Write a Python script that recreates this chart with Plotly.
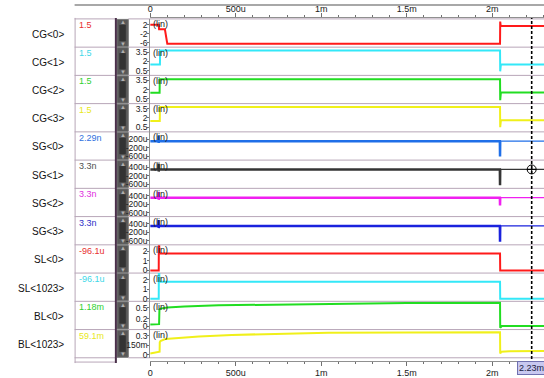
import plotly.graph_objects as go

W, H = 544, 378


def PX(x):
    return x / W


def PY(y):
    return 1 - y / H


# ---------------- data (time in microseconds) ----------------
names = ["CG<0>", "CG<1>", "CG<2>", "CG<3>", "SG<0>", "SG<1>", "SG<2>", "SG<3>",
         "SL<0>", "SL<1023>", "BL<0>", "BL<1023>"]
cursor_values = ["1.5", "1.5", "1.5", "1.5", "2.29n", "3.3n", "3.3n", "3.3n",
                 "-96.1u", "-96.1u", "1.18m", "59.1m"]

x_tick_vals = [0, 500, 1000, 1500, 2000]
x_tick_text = ["0", "500u", "1m", "1.5m", "2m"]
cursor_time = 2230
cursor_label = "2.23m"

ytick_vals = [[2, -2, -6], [3.5, 2, 0.5], [3.5, 2, 0.5], [3.5, 2, 0.5],
              [200, -200, -600], [200, -200, -600], [200, -200, -600], [200, -200, -600],
              [2, 1, 0], [2, 1, 0], [0.5, 0.2, 0], [0.3, 0.15, 0]]
ytick_text = [["2", "-2", "-6"], ["3.5", "2", "0.5"], ["3.5", "2", "0.5"], ["3.5", "2", "0.5"],
              ["200u", "-200u", "-600u"], ["400u", "-200u", "-600u"],
              ["400u", "-200u", "-600u"], ["400u", "-200u", "-600u"],
              ["2", "1", "0"], ["2", "1", "0"], ["0.5", "0.2", "0"], ["0.3", "150m", "0"]]

# CG signals
t_cg0 = [0, 50, 52, 86, 100, 2045, 2046, 2049, 2302]
v_cg0 = [2.0, 2.0, 0.0, 0.0, -6.4, -6.4, 3.5, 1.5, 1.5]
t_cg1 = [0, 57, 58, 2045, 2046, 2050, 2302]
v_cg1 = [1.5, 1.5, 3.77, 3.77, 0.4, 1.5, 1.5]
t_cg2 = [0, 55, 56, 2045, 2046, 2050, 2302]
v_cg2 = [1.5, 1.5, 3.68, 3.68, 0.3, 1.55, 1.55]
t_cg3 = [0, 56, 57, 2045, 2046, 2050, 2302]
v_cg3 = [1.5, 1.5, 3.74, 3.74, 0.5, 1.6, 1.6]

# SG signals (values in micro-units); before and after the 2.045m event
t_sg_before = [0, 48, 49, 50, 51, 2044, 2045, 2046]
v_sg0_before = [100, 100, 360, 20, 100, 100, -620, 100]
v_sg1_before = [100, 100, 380, 0, 100, 100, -640, 100]
v_sg2_before = [100, 100, 380, 0, 100, 100, -260, 100]
v_sg3_before = [100, 100, 380, 0, 100, 100, -640, 100]
t_sg_after = [2046, 2302]
v_sg0_after = [100, 100]
v_sg1_after = [100, 100]
v_sg2_after = [100, 100]
v_sg3_after = [100, 100]

# SL signals
t_sl0 = [0, 50, 50.5, 53, 55, 2045, 2046, 2302]
v_sl0 = [0.0, 0.0, 2.55, 2.55, 1.77, 1.77, 0.0, 0.0]
t_sl1023 = [0, 50, 50.5, 53, 55, 2045, 2046, 2302]
v_sl1023 = [0.0, 0.0, 2.65, 2.65, 1.78, 1.78, 0.0, 0.0]

# BL signals
t_bl0 = [0, 52, 54, 60, 100, 200, 400, 700, 1000, 1500, 2045, 2046, 2055, 2302]
v_bl0 = [0.04, 0.05, 0.44, 0.47, 0.5, 0.53, 0.56, 0.58, 0.6, 0.62, 0.63, -0.05, 0.0, 0.0]
t_bl1023 = [0, 50, 55, 56, 60, 88, 285, 477, 1040, 1500, 2045, 2046, 2052, 2100, 2302]
v_bl1023 = [0.02, 0.045, 0.05, 0.2, 0.22, 0.25, 0.29, 0.316, 0.35, 0.356, 0.36, 0.02, 0.05, 0.055, 0.062]

sg_marker_value = 100  # SG<1> value at the cursor crosshair

# ---------------- styles ----------------
line_colors = ["#ff1a1a", "#33e8f8", "#22dd22", "#f0f01a", "#1f6fe8", "#353535",
               "#f020f0", "#1a22dd", "#ff1a1a", "#33e8f8", "#22dd22", "#f0f01a"]
text_colors = ["#e83030", "#40d8e8", "#30d030", "#e8e820", "#3070e0", "#505050",
               "#e030e0", "#3030c8", "#e83030", "#40d8e8", "#30d030", "#e8e820"]
yranges = [[-7.96, 4.67], [-0.26, 4.3], [-0.26, 4.3], [-0.26, 4.3],
           [-784, 536], [-784, 536], [-784, 536], [-784, 536],
           [-0.28, 2.69], [-0.28, 2.69], [-0.096, 0.668], [-0.047, 0.401]]

FONT = "Liberation Sans, Arial, sans-serif"
ROW_TOP, ROW_BOT = 19.0, 359.7
NROW = 12
RH = (ROW_BOT - ROW_TOP) / NROW
X0, XEND = 0, 2302
PLOT_L = 148

series = [
    [(t_cg0, v_cg0, 2)], [(t_cg1, v_cg1, 2)], [(t_cg2, v_cg2, 2)], [(t_cg3, v_cg3, 2)],
    [(t_sg_before, v_sg0_before, 2.5), (t_sg_after, v_sg0_after, 1.3)],
    [(t_sg_before, v_sg1_before, 2.5), (t_sg_after, v_sg1_after, 1.3)],
    [(t_sg_before, v_sg2_before, 2.5), (t_sg_after, v_sg2_after, 1.3)],
    [(t_sg_before, v_sg3_before, 2.5), (t_sg_after, v_sg3_after, 1.3)],
    [(t_sl0, v_sl0, 2)], [(t_sl1023, v_sl1023, 2)],
    [(t_bl0, v_bl0, 2)], [(t_bl1023, v_bl1023, 2)],
]

fig = go.Figure()
layout = dict(
    width=W, height=H, margin=dict(l=0, r=0, t=0, b=0),
    paper_bgcolor="white", plot_bgcolor="white", showlegend=False,
    font=dict(family=FONT, size=9, color="#202020"),
)

sep_color = "#b8a6b8"
shapes = []
annotations = []

for i in range(NROW):
    top = ROW_TOP + i * RH
    bot = top + RH
    yname = "y" if i == 0 else f"y{i + 1}"
    ykey = "yaxis" if i == 0 else f"yaxis{i + 1}"
    for (t, v, w) in series[i]:
        fig.add_trace(go.Scatter(x=t, y=v, xaxis="x", yaxis=yname, mode="lines",
                                 line=dict(color=line_colors[i], width=w),
                                 hoverinfo="skip"))
    layout[ykey] = dict(
        domain=[PY(bot), PY(top)], range=yranges[i], anchor="x",
        tickmode="array", tickvals=ytick_vals[i], ticktext=ytick_text[i],
        ticks="outside", ticklen=2, tickcolor="#707070", ticklabelstandoff=-2,
        showline=True, linecolor="#909090", linewidth=1,
        showgrid=False, zeroline=False, fixedrange=True,
        tickfont=dict(size=8.5, color="#202020", family=FONT),
    )
    # row separators
    shapes.append(dict(type="line", xref="paper", yref="paper", layer="below",
                       x0=PX(72), x1=PX(113), y0=PY(top), y1=PY(top),
                       line=dict(color=sep_color, width=1)))
    shapes.append(dict(type="line", xref="paper", yref="paper", layer="below",
                       x0=PX(126), x1=1, y0=PY(top), y1=PY(top),
                       line=dict(color=sep_color, width=1)))
    # scrollbar
    shapes.append(dict(type="rect", xref="paper", yref="paper", layer="below",
                       x0=PX(114.5), x1=PX(126), y0=PY(bot - 0.5), y1=PY(top + 0.5),
                       fillcolor="#585858", line=dict(color="#787878", width=1)))
    shapes.append(dict(type="rect", xref="paper", yref="paper", layer="below",
                       x0=PX(117), x1=PX(123.5), y0=PY(bot - 6), y1=PY(top + 6),
                       fillcolor="#333333", line=dict(width=0)))
    annotations.append(dict(x=PX(120.2), y=PY(top + 3.5), xref="paper", yref="paper",
                            text="▲", showarrow=False, font=dict(size=6, color="#b0b0b0"),
                            xanchor="center", yanchor="middle"))
    annotations.append(dict(x=PX(120.2), y=PY(bot - 3.5), xref="paper", yref="paper",
                            text="▼", showarrow=False, font=dict(size=6, color="#b0b0b0"),
                            xanchor="center", yanchor="middle"))
    # names
    annotations.append(dict(x=PX(63), y=PY(top + RH / 2 + 1), xref="paper", yref="paper",
                            text=names[i], showarrow=False,
                            font=dict(size=10, color="#111111", family=FONT),
                            xanchor="right", yanchor="middle"))
    # cursor values
    annotations.append(dict(x=PX(74), y=PY(top + 6), xref="paper", yref="paper",
                            text=cursor_values[i], showarrow=False,
                            font=dict(size=9, color=text_colors[i], family=FONT),
                            xanchor="left", yanchor="middle"))
    # (lin)
    annotations.append(dict(x=PX(149), y=PY(top + 5.5), xref="paper", yref="paper",
                            text="(lin)", showarrow=False,
                            font=dict(size=9, color="#202020", family=FONT),
                            xanchor="left", yanchor="middle"))

# bottom separator
shapes.append(dict(type="line", xref="paper", yref="paper", layer="below",
                   x0=PX(72), x1=PX(113), y0=PY(ROW_BOT), y1=PY(ROW_BOT),
                   line=dict(color=sep_color, width=1)))
shapes.append(dict(type="line", xref="paper", yref="paper", layer="below",
                   x0=PX(126), x1=1, y0=PY(ROW_BOT), y1=PY(ROW_BOT),
                   line=dict(color=sep_color, width=1)))
shapes.append(dict(type="line", xref="paper", yref="paper", layer="below",
                   x0=PX(72), x1=PX(113), y0=PY(364), y1=PY(364),
                   line=dict(color=sep_color, width=1)))
# vertical borders of value column
shapes.append(dict(type="line", xref="paper", yref="paper", layer="below",
                   x0=PX(72.5), x1=PX(72.5), y0=PY(365), y1=PY(18),
                   line=dict(color=sep_color, width=1)))
shapes.append(dict(type="line", xref="paper", yref="paper", layer="below",
                   x0=PX(113.5), x1=PX(113.5), y0=PY(365), y1=PY(18),
                   line=dict(color="#4a304a", width=2)))
# top gray line
shapes.append(dict(type="line", xref="paper", yref="paper", layer="below",
                   x0=PX(72), x1=1, y0=PY(5.0), y1=PY(5.0),
                   line=dict(color="#a8a8a8", width=2)))
# cursor
shapes.append(dict(type="line", xref="x", yref="paper",
                   x0=cursor_time, x1=cursor_time, y0=PY(366), y1=PY(18),
                   line=dict(color="#000000", width=1.6, dash="3px,2px")))

annotations.append(dict(x=cursor_time, y=PY(370), xref="x", yref="paper",
                        text=cursor_label, showarrow=False,
                        font=dict(size=9, color="#202040", family=FONT),
                        bgcolor="#c8c8f0", bordercolor="#7070b0", borderwidth=1, borderpad=1,
                        xanchor="center", yanchor="middle"))

# crosshair marker on SG<1>
fig.add_trace(go.Scatter(x=[cursor_time], y=[sg_marker_value], xaxis="x", yaxis="y6",
                         mode="markers",
                         marker=dict(symbol="circle-cross-open", size=9, color="#000000",
                                     line=dict(width=1, color="#000000")),
                         hoverinfo="skip"))
# dummy trace for top axis
fig.add_trace(go.Scatter(x=[X0, XEND], y=[None, None], xaxis="x2", yaxis="y",
                         mode="lines", hoverinfo="skip"))

xcommon = dict(
    range=[X0, XEND], tickmode="array", tickvals=x_tick_vals, ticktext=x_tick_text,
    ticks="outside", ticklen=4, tickcolor="#707070",
    showline=True, linecolor="#909090", linewidth=1,
    showgrid=False, zeroline=False, fixedrange=True,
    tickfont=dict(size=9, color="#202020", family=FONT),
    minor=dict(tickmode="linear", tick0=0, dtick=100, ticks="outside", ticklen=2,
               tickcolor="#707070", showgrid=False),
)
layout["xaxis"] = dict(domain=[PX(PLOT_L), 1], anchor="free", position=PY(362.5), **xcommon)
layout["xaxis2"] = dict(domain=[PX(PLOT_L), 1], anchor="free", position=PY(16.7),
                        overlaying="x", side="top", matches="x", ticklabelstandoff=-3,
                        **xcommon)
layout["shapes"] = shapes
layout["annotations"] = annotations
fig.update_layout(**layout)

fig.write_html(
    "out.html",
    config={"displayModeBar": False},
    post_script="document.body.style.margin='0';document.body.style.padding='0';"
                "document.body.style.overflow='hidden';",
)
